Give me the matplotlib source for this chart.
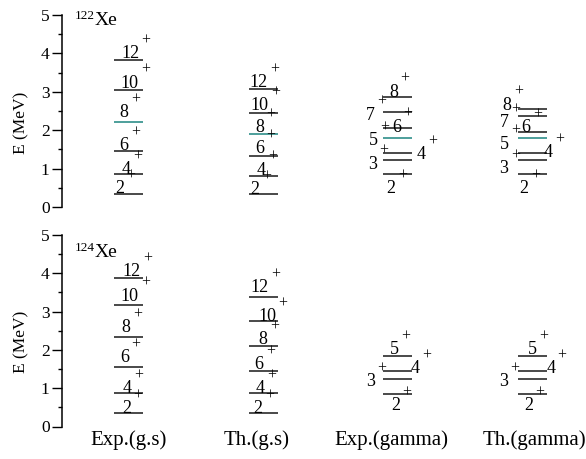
import matplotlib
matplotlib.use("Agg")
import matplotlib.pyplot as plt
from matplotlib.ticker import MultipleLocator

plt.rcParams['font.family'] = ['Liberation Serif', 'DejaVu Serif']
plt.rcParams['font.size'] = 12

DPI = 100
PX = 72.0 / DPI  # pixels -> points

# column names (x labels)
columns = ['Exp.(g.s)', 'Th.(g.s)', 'Exp.(gamma)', 'Th.(gamma)']

# spins
gs_spins = ['2', '4', '6', '8', '10', '12']
gam_spins_122 = ['2', '3', '4', '5', '6', '7', '8']
gam_spins_124 = ['2', '3', '4', '5']

# 122Xe level energies (MeV)
xe122_exp_gs = [0.33, 0.85, 1.47, 2.22, 3.05, 3.83]
xe122_th_gs = [0.34, 0.82, 1.34, 1.90, 2.46, 3.06]
xe122_exp_gam = [0.87, 1.22, 1.41, 1.80, 2.07, 2.47, 2.86]
xe122_th_gam = [0.87, 1.22, 1.41, 1.80, 1.96, 2.37, 2.54]

# 124Xe level energies (MeV)
xe124_exp_gs = [0.35, 0.87, 1.55, 2.33, 3.17, 3.88]
xe124_th_gs = [0.35, 0.87, 1.46, 2.10, 2.75, 3.39]
xe124_exp_gam = [0.85, 1.25, 1.44, 1.84]
xe124_th_gam = [0.85, 1.25, 1.44, 1.84]

# label offsets (pixels, digit centre relative to level centre)
lab_122 = [
    [(-9, 7.3), (-2.7, 6.6), (-4.7, 6.7), (-4.5, 11), (1, 8.3), (1.5, 7.7)],
    [(-8, 6), (-2, 7), (-3.5, 8.2), (-3.5, 8), (-3.5, 8.7), (-4.5, 8.5)],
    [(-6.6, -13.6), (-25, -2.3), (23.4, 0), (-24, -1), (-1.3, 2), (-27.3, -1.4), (-4, 6.6)],
    [(-8.3, -13.8), (-28.3, -6.7), (16.3, 2), (-28, -4.7), (-6, 5.7), (-28, -4.7), (-25, 6)],
]
lab_124 = [
    [(-2, 6), (-1, 6), (-4, 10.9), (-2.5, 10.9), (1, 10.5), (3, 8.1)],
    [(-5, 6), (-3, 6), (-4, 7.5), (0, 8.2), (4, 6.4), (-3.8, 10.7)],
    [(-2.3, -10), (-27.3, -1.7), (17.9, 4.2), (-3.5, 8.2)],
    [(-3.7, -10), (-28.7, -1.7), (18.5, 4.2), (0, 8.2)],
]

LINE = '#2a2a2a'
TEAL = '#2f8f8a'
HW = 0.108
FS_LEV = 13


def draw_band(ax, col, energies, spins, offsets, teal_spin=None):
    for e, s, (dx, dy) in zip(energies, spins, offsets):
        c = TEAL if s == teal_spin else LINE
        ax.hlines(e, col - HW, col + HW, color=c, lw=1.2)
        ax.annotate(s, xy=(col, e), xytext=(dx * PX, (dy - 6.1) * PX),
                    textcoords='offset points', ha='center', va='baseline',
                    fontsize=FS_LEV)
        # superscript "+"
        px = dx + 4.5 * len(s) + 7
        py = dy + 11.5
        ax.annotate('+', xy=(col, e), xytext=(px * PX, py * PX),
                    textcoords='offset points', ha='center', va='center',
                    fontsize=11.5)


def setup(ax, bottom):
    ax.set_xlim(-0.494, 3.40)
    ax.set_ylim(0, 5)
    for sp in ['top', 'right', 'bottom']:
        ax.spines[sp].set_visible(False)
    ax.spines['left'].set_linewidth(1.1)
    ax.yaxis.set_major_locator(MultipleLocator(1))
    ax.yaxis.set_minor_locator(MultipleLocator(0.5))
    ax.tick_params(axis='y', which='major', direction='out', length=7, width=1.0,
                   pad=2, labelsize=12.5)
    ax.tick_params(axis='y', which='minor', direction='out', length=3, width=1.0)
    if bottom:
        ax.set_xticks([0, 0.95, 1.95, 3.02])
        ax.set_xticklabels(columns, fontsize=15)
        ax.tick_params(axis='x', length=0, pad=3)
    else:
        ax.set_xticks([])
    ax.set_ylabel('E (MeV)', fontsize=12.5)
    ax.yaxis.set_label_coords(-0.063, 0.44)


fig = plt.figure(figsize=(5.86, 4.59), dpi=DPI)
ax1 = fig.add_axes([62 / 586, 1 - 207 / 459, 524 / 586, 192 / 459])
ax2 = fig.add_axes([62 / 586, 1 - 426.5 / 459, 524 / 586, 191.5 / 459])

setup(ax1, False)
setup(ax2, True)

draw_band(ax1, 0, xe122_exp_gs, gs_spins, lab_122[0], teal_spin='8')
draw_band(ax1, 1, xe122_th_gs, gs_spins, lab_122[1], teal_spin='8')
draw_band(ax1, 2, xe122_exp_gam, gam_spins_122, lab_122[2], teal_spin='5')
draw_band(ax1, 3, xe122_th_gam, gam_spins_122, lab_122[3], teal_spin='5')

draw_band(ax2, 0, xe124_exp_gs, gs_spins, lab_124[0])
draw_band(ax2, 1, xe124_th_gs, gs_spins, lab_124[1])
draw_band(ax2, 2, xe124_exp_gam, gam_spins_124, lab_124[2])
draw_band(ax2, 3, xe124_th_gam, gam_spins_124, lab_124[3])

# nucleus labels
for ax, name, yy in [(ax1, '122', 4.74), (ax2, '124', 4.43)]:
    xe = ax.text(-0.249, yy, 'Xe', ha='left', va='baseline', fontsize=14)
    ax.annotate(name, xy=(0, 1), xycoords=xe, xytext=(0, 2 * PX),
                textcoords='offset points', ha='right', va='top', fontsize=9.5)

fig.savefig('out.png', dpi=DPI)
